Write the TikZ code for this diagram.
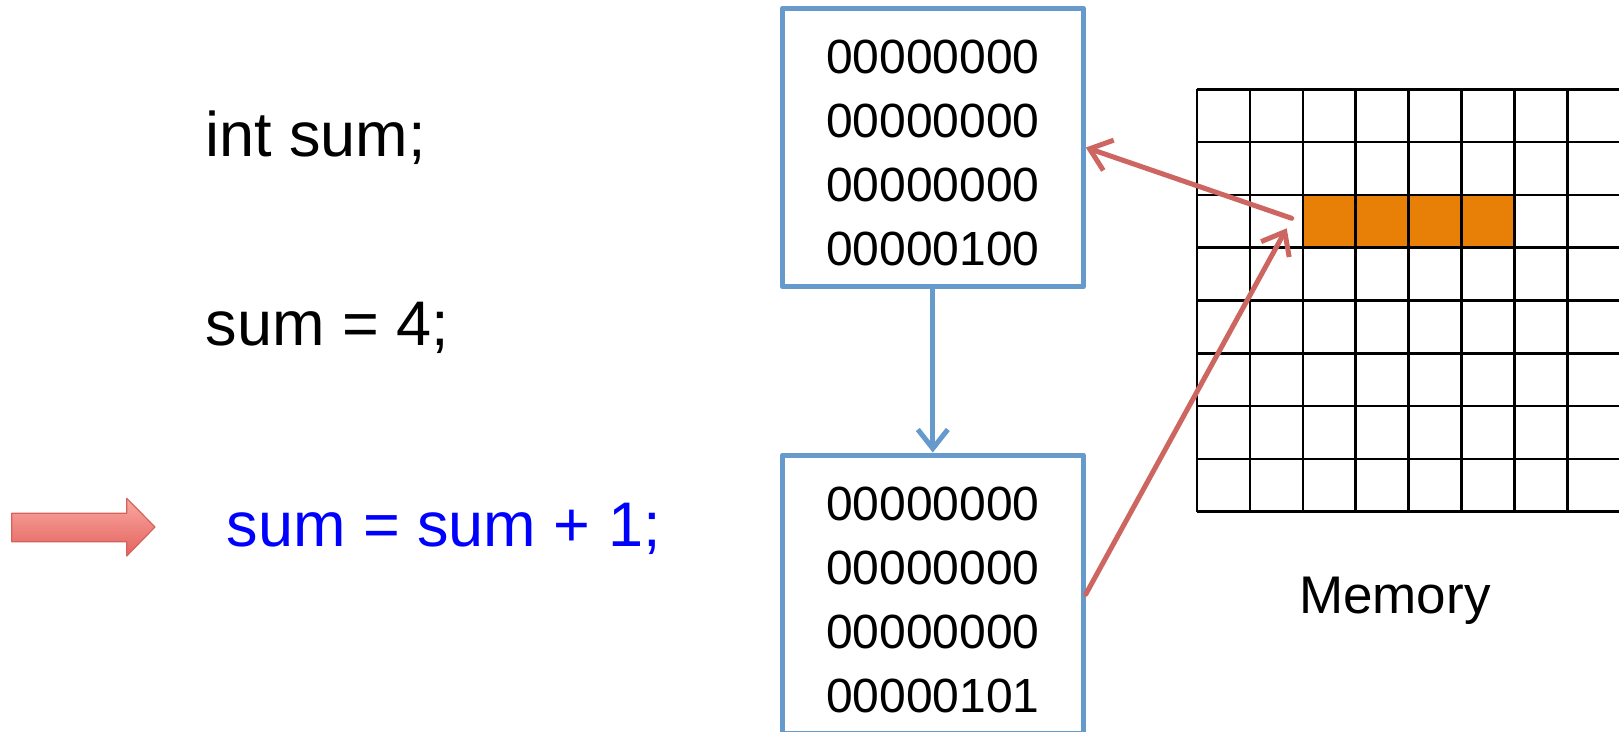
\documentclass[tikz,border=0pt]{standalone}
\usepackage{fontspec}
\setmainfont{Liberation Sans}
\usepackage{xcolor}
\usetikzlibrary{arrows.meta}
\definecolor{boxblue}{RGB}{102,153,204}
\definecolor{linkred}{RGB}{205,102,97}
\definecolor{cellorange}{RGB}{232,128,8}
\definecolor{pointerline}{RGB}{214,98,92}
\definecolor{pointertop}{RGB}{250,168,163}
\definecolor{pointerbot}{RGB}{228,98,92}
\newcommand{\toprow}{\rule{0pt}{45pt}}
\begin{document}
\begin{tikzpicture}[x=1pt,y=-1pt,line join=round,
  code/.style={anchor=base west,inner sep=0pt,font=\fontsize{63}{76}\selectfont},
  wordbox/.style={draw=boxblue,line width=5pt,fill=white,minimum width=301pt,minimum height=278.4pt,
    align=center,inner sep=0pt,font=\fontsize{48}{64}\selectfont},
  flow/.style={boxblue,line width=5pt,-{Straight Barb[length=19pt,width=30pt]}},
  link/.style={linkred,line width=5pt,line cap=round,-{Straight Barb[length=20pt,width=32pt]}},
  gridline/.style={line width=2.6pt}]
  \useasboundingbox (0,0) rectangle (1619,731);
  \fill[white] (0,0) rectangle (1619,731);
  \path[draw=pointerline,line width=1.2pt,top color=pointertop,bottom color=pointerbot]
    (11.7,513.3) -- (126.7,513.3) -- (126.7,498.3) -- (155,527) -- (126.7,556)
    -- (126.7,541.7) -- (11.7,541.7) -- cycle;
  \node[code] (decl) at (205,156.7) {int sum;};
  \node[code] (assign) at (205.5,345.7) {sum = 4;};
  \node[code,text=blue] (incr) at (226.5,546.7) {sum = sum + 1;};
  \node[wordbox] (oldval) at (932.8,147.5) {\toprow 00000000\\00000000\\00000000\\00000100};
  \node[wordbox] (newval) at (932.8,594.2) {\toprow 00000000\\00000000\\00000000\\00000101};
  \begin{scope}[shift={(1197,89.3)},x=52.9pt,y=-52.8pt]
    \fill[cellorange] (2,2) rectangle (6,3);
    \foreach \i in {0,...,8}
      \draw[gridline] (\i,0) -- (\i,8);
    \foreach \j in {0,...,8}
      \draw[gridline] (0,\j) -- (8,\j);
  \end{scope}
  \node[anchor=base west,inner sep=0pt,font=\fontsize{53}{64}\selectfont] (memlabel) at (1299,613.3) {Memory};
  \coordinate (cellfrom) at (1291.7,218.3);
  \coordinate (cellto) at (1286.7,228.3);
  \draw[flow] (oldval) -- (newval);
  \draw[link] (cellfrom) -- (oldval.east);
  \draw[link] (newval.east) -- (cellto);
\end{tikzpicture}
\end{document}
